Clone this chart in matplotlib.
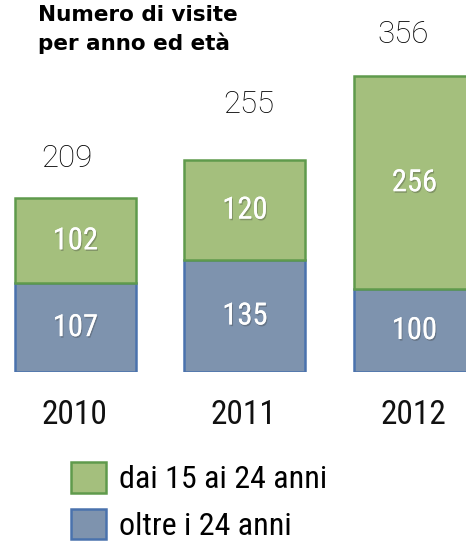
import matplotlib
matplotlib.use("Agg")
import matplotlib.pyplot as plt
import matplotlib.patheffects as pe

years = ["2010", "2011", "2012"]
young = [102, 120, 256]
older = [107, 135, 100]
totals = [209, 255, 356]
series_labels = ["dai 15 ai 24 anni", "oltre i 24 anni"]
title = "Numero di visite\nper anno ed età"

cond = ["Roboto Condensed", "DejaVu Sans"]

W, H = 466, 544
fig = plt.figure(figsize=(W / 100, H / 100), dpi=100)
ax = fig.add_axes([0, 1 - 372 / H, 1, 372 / H])
ax.set_xlim(-0.445, 2.304)
ax.set_ylim(0, 448)
ax.axis("off")

green_fc, green_ec = "#a4bf7d", "#5f9a4c"
blue_fc, blue_ec = "#7e93ae", "#4a72ad"
x = list(range(len(years)))
bw = 0.714
b1 = ax.bar(x, older, bw, color=blue_fc, edgecolor=blue_ec, linewidth=1.8,
            label=series_labels[1])
b2 = ax.bar(x, young, bw, bottom=older, color=green_fc, edgecolor=green_ec,
            linewidth=1.8, label=series_labels[0])

shadow = [pe.withSimplePatchShadow(offset=(0.8, -1.2), shadow_rgbFace="#333333", alpha=0.3),
          pe.Normal()]
for i in x:
    ax.text(i, older[i] / 2, str(older[i]), ha="center", va="center",
            color="white", fontsize=22, family=cond, path_effects=shadow)
    ax.text(i, older[i] + young[i] / 2, str(young[i]), ha="center", va="center",
            color="white", fontsize=22, family=cond, path_effects=shadow)

tot_off = [(-6, 29), (3, 40), (-8, 30)]
for i in x:
    ax.annotate(str(totals[i]), (i, totals[i]), xytext=tot_off[i],
                textcoords="offset points", ha="center", va="center",
                fontsize=22.5, family="Roboto", fontweight="light", color="#000000")
    ax.annotate(years[i], (i, 0), xytext=(-1, -31), textcoords="offset points",
                ha="center", va="center", fontsize=24, family=cond, color="#111111")

fig.text(38 / W, 1 - 5 / H, title, ha="left", va="top", fontsize=15.5,
         fontweight="bold", family="DejaVu Sans", linespacing=1.45)

leg = fig.legend(handles=[b2, b1], labels=series_labels, loc="upper left",
                 bbox_to_anchor=(71 / W, 1 - 462 / H), frameon=False,
                 borderpad=0, borderaxespad=0,
                 prop={"family": cond, "size": 23}, handlelength=1.1,
                 handleheight=1.1, handletextpad=0.4, labelspacing=0.45)

fig.savefig("out.png", dpi=100)
